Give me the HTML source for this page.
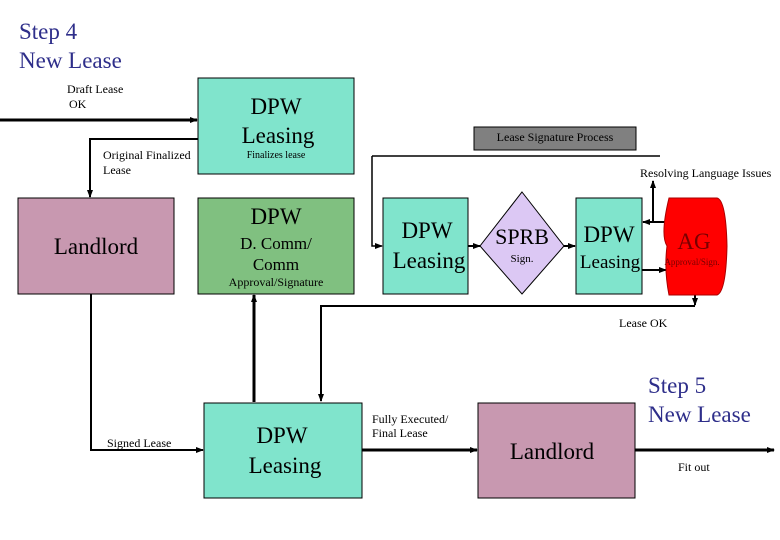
<!DOCTYPE html>
<html><head><meta charset="utf-8"><style>
html,body{margin:0;padding:0;background:#fff}
svg{display:block}
</style></head><body>
<svg width="780" height="540" viewBox="0 0 780 540" xmlns="http://www.w3.org/2000/svg" font-family="'Liberation Serif', 'Times New Roman', serif">
<defs>
<marker id="a" markerWidth="8" markerHeight="8" refX="7" refY="4" orient="auto" markerUnits="userSpaceOnUse">
<path d="M0,1 L8,4 L0,7 z" fill="#000"/></marker>
</defs>
<g fill="#2e2e8a" font-size="23">
<text x="19" y="39">Step 4</text>
<text x="19" y="68">New Lease</text>
<text x="648" y="393">Step 5</text>
<text x="648" y="422">New Lease</text>
</g>
<g font-size="12" fill="#000">
<text x="67" y="93">Draft Lease</text>
<text x="69" y="108">OK</text>
<text x="103" y="159">Original Finalized</text>
<text x="103" y="174">Lease</text>
<text x="107" y="447">Signed Lease</text>
<text x="372" y="423">Fully Executed/</text>
<text x="372" y="437">Final Lease</text>
<text x="678" y="471">Fit out</text>
<text x="619" y="327">Lease OK</text>
<text x="640" y="177">Resolving Language Issues</text>
</g>
<g stroke="#000" fill="none">
<line x1="0" y1="120" x2="197" y2="120" stroke-width="3" marker-end="url(#a)"/>
<polyline points="198,139 90,139 90,197" stroke-width="2" marker-end="url(#a)"/>
<polyline points="372,156 660,156" stroke-width="1.5"/>
<polyline points="372,156 372,246 382,246" stroke-width="1.5" marker-end="url(#a)"/>
<line x1="468" y1="246" x2="480" y2="246" stroke-width="2" marker-end="url(#a)"/>
<line x1="564" y1="246" x2="575" y2="246" stroke-width="2" marker-end="url(#a)"/>
<line x1="667" y1="222" x2="643" y2="222" stroke-width="2" marker-end="url(#a)"/>
<line x1="653" y1="222" x2="653" y2="181" stroke-width="2" marker-end="url(#a)"/>
<line x1="642" y1="270" x2="666" y2="270" stroke-width="2" marker-end="url(#a)"/>
<line x1="695" y1="294" x2="695" y2="305" stroke-width="2" marker-end="url(#a)"/>
<polyline points="695,306 321,306 321,401" stroke-width="2" marker-end="url(#a)"/>
<line x1="254" y1="402" x2="254" y2="295" stroke-width="3" marker-end="url(#a)"/>
<polyline points="91,294 91,450 203,450" stroke-width="2" marker-end="url(#a)"/>
<line x1="362" y1="450" x2="477" y2="450" stroke-width="3" marker-end="url(#a)"/>
<line x1="635" y1="450" x2="774" y2="450" stroke-width="3" marker-end="url(#a)"/>
</g>
<g stroke="#000" stroke-width="1">
<rect x="198" y="78" width="156" height="96" fill="#80e4cc"/>
<rect x="18" y="198" width="156" height="96" fill="#c898b0"/>
<rect x="198" y="198" width="156" height="96" fill="#80c080"/>
<rect x="383" y="198" width="85" height="96" fill="#80e4cc"/>
<polygon points="522,192 564,246 522,294 480,246" fill="#dcc8f4"/>
<rect x="576" y="198" width="66" height="96" fill="#80e4cc"/>
<rect x="474" y="127" width="162" height="23" fill="#808080"/>
<rect x="204" y="403" width="158" height="95" fill="#80e4cc"/>
<rect x="478" y="403" width="157" height="95" fill="#c898b0"/>
</g>
<path d="M669,198 L717,198 Q726,200 727,246 Q726,292 717,295 L669,295 Q664,270 667,246 Q660,235 669,198 z" fill="#ff0000" stroke="#aa0000"/>
<g text-anchor="middle" fill="#000">
<text x="276" y="114" font-size="23">DPW</text>
<text x="278" y="143" font-size="23">Leasing</text>
<text x="276" y="158" font-size="10">Finalizes lease</text>
<text x="96" y="254" font-size="23">Landlord</text>
<text x="276" y="224" font-size="23">DPW</text>
<text x="276" y="249" font-size="17">D. Comm/</text>
<text x="276" y="270" font-size="17">Comm</text>
<text x="276" y="286" font-size="12">Approval/Signature</text>
<text x="427" y="238" font-size="23">DPW</text>
<text x="429" y="268" font-size="23">Leasing</text>
<text x="522" y="244" font-size="22">SPRB</text>
<text x="522" y="262" font-size="11">Sign.</text>
<text x="609" y="242" font-size="23">DPW</text>
<text x="610" y="268" font-size="19">Leasing</text>
<text x="694" y="249" font-size="23" fill="#700">AG</text>
<text x="692" y="265" font-size="9" fill="#700">Approval/Sign.</text>
<text x="555" y="141" font-size="12">Lease Signature Process</text>
<text x="282" y="443" font-size="23">DPW</text>
<text x="285" y="473" font-size="23">Leasing</text>
<text x="552" y="459" font-size="23">Landlord</text>
</g>
</svg>
</body></html>
